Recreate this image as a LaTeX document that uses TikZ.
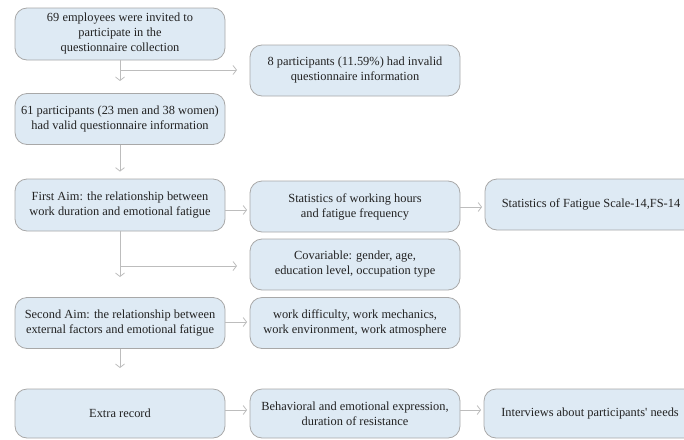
\documentclass[tikz,border=0pt]{standalone}
\usepackage{fontspec}
\setmainfont{Liberation Serif}
\usetikzlibrary{arrows.meta}
\definecolor{boxfill}{HTML}{DEEAF4}
\definecolor{boxline}{HTML}{A8A8A8}
\definecolor{arrline}{HTML}{BDBDBD}
\definecolor{txt}{HTML}{222222}
\tikzset{
  flowbox/.style={draw=boxline, line width=0.8pt, fill=boxfill, rounded corners=12pt,
    minimum width=210pt, minimum height=51pt, align=center, inner sep=2pt,
    font=\fontsize{12.4}{15}\selectfont, text=txt},
  conn/.style={draw=arrline, line width=1pt, -{Straight Barb[length=3.5pt,width=9pt,line width=0.8pt]}},
  plain/.style={draw=arrline, line width=1pt}
}
\begin{document}
\begin{tikzpicture}[x=1pt,y=-1pt]
\useasboundingbox (0,0) rectangle (684,439);
\clip (0,0) rectangle (684,439);
\node[flowbox, minimum height=52pt] (b1) at (120,34) {69 employees were invited to\\participate in the\\questionnaire collection};
\node[flowbox] (inv) at (355,70.5) {8 participants (11.59\%) had invalid\\questionnaire information};
\node[flowbox] (b2) at (120,119) {61 participants (23 men and 38 women)\\had valid questionnaire information};
\node[flowbox, minimum height=52pt] (b3) at (120,205) {First Aim: the relationship between\\work duration and emotional fatigue};
\node[flowbox] (stat) at (355,206.5) {Statistics of working hours\\and fatigue frequency};
\node[flowbox, minimum width=212pt] (fs) at (591,204.5) {Statistics of Fatigue Scale-14,FS-14};
\node[flowbox] (cov) at (355,264.5) {Covariable: gender, age,\\education level, occupation type};
\node[flowbox] (b4) at (120,323) {Second Aim: the relationship between\\external factors and emotional fatigue};
\node[flowbox] (work) at (355,323) {work difficulty, work mechanics,\\work environment, work atmosphere};
\node[flowbox, minimum height=49pt] (b5) at (120,413.5) {Extra record};
\node[flowbox, minimum height=49pt] (beh) at (355,413.5) {Behavioral and emotional expression,\\duration of resistance};
\node[flowbox, minimum height=49pt, minimum width=212pt] (int) at (590,413.5) {Interviews about participants\textquotesingle{} needs};

% first junction
\coordinate (j1) at (b1.south |- 0,70);
\coordinate (t1) at (b1.south |- 0,81);
\coordinate (h1) at (237,70);
\draw[conn] (b1.south) -- (t1);
\draw[conn] (j1) -- (h1);

\draw[conn, shorten >=7pt] (b2.south) -- (b3.north);
\draw[conn, shorten >=2.5pt] (b3.east |- 0,210) -- (stat.west |- 0,210);
\draw[conn, shorten >=2.5pt] (stat.east |- 0,207) -- (fs.west |- 0,207);

% second junction
\coordinate (j2) at (b3.south |- 0,266);
\coordinate (t2) at (b3.south |- 0,277);
\coordinate (h2) at (237,266);
\draw[conn] (b3.south) -- (t2);
\draw[conn] (j2) -- (h2);

\draw[conn, shorten >=2.5pt] (b4.east |- 0,322) -- (work.west |- 0,322);
\coordinate (t3) at (b4.south |- 0,368);
\draw[conn] (b4.south) -- (t3);

\draw[conn, shorten >=2.5pt] (b5.east |- 0,410) -- (beh.west |- 0,410);
\draw[conn, shorten >=2.5pt] (beh.east |- 0,410) -- (int.west |- 0,410);
\end{tikzpicture}
\end{document}
